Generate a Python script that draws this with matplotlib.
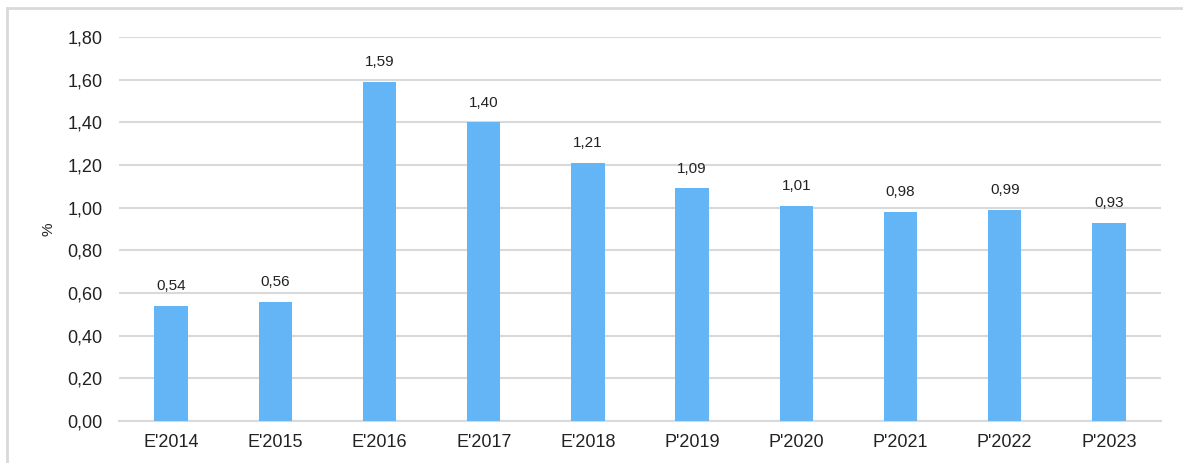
import matplotlib
matplotlib.use("Agg")
import matplotlib.pyplot as plt
from matplotlib.patches import Rectangle

years = ["E'2014", "E'2015", "E'2016", "E'2017", "E'2018",
         "P'2019", "P'2020", "P'2021", "P'2022", "P'2023"]
values = [0.54, 0.56, 1.59, 1.40, 1.21, 1.09, 1.01, 0.98, 0.99, 0.93]
yticks = [0.0, 0.2, 0.4, 0.6, 0.8, 1.0, 1.2, 1.4, 1.6, 1.8]


def fmt(v):
    return f"{v:.2f}".replace(".", ",")


plt.rcParams['font.family'] = ['Liberation Sans', 'DejaVu Sans']

fig = plt.figure(figsize=(11.83, 4.63), dpi=100)
ax = fig.add_axes([0.1006, 0.0907, 0.8808, 0.8293])

x = range(len(years))
bars = ax.bar(x, values, width=0.32, color='#64B5F6', zorder=3)

for b, v in zip(bars, values):
    ax.annotate(fmt(v), (b.get_x() + b.get_width() / 2, v),
                xytext=(0, 9), textcoords='offset points',
                ha='center', va='bottom', fontsize=11, color='#222222')

ax.set_xlim(-0.5, len(years) - 0.5)
ax.set_ylim(0, 1.8)
ax.set_yticks(yticks)
ax.set_yticklabels([fmt(t) for t in yticks])
ax.set_xticks(list(x))
ax.set_xticklabels(years)
ax.tick_params(axis='both', length=0, labelsize=13, colors='#222222')
ax.tick_params(axis='y', pad=12)
ax.tick_params(axis='x', pad=9)
ax.yaxis.grid(True, color='#D9D9D9', linewidth=1.5, zorder=0)
for s in ['top', 'right', 'left']:
    ax.spines[s].set_visible(False)
ax.spines['bottom'].set_color('#D9D9D9')
ax.spines['bottom'].set_linewidth(1.5)
ax.set_ylabel('%', fontsize=11, color='#222222')
ax.yaxis.set_label_coords(-0.061, 0.5)

# light frame around chart
fig.patches.append(Rectangle((7 / 1183, -0.1), 1.2, (463 - 8) / 463 + 0.1,
                             transform=fig.transFigure, fill=False,
                             edgecolor='#D9D9D9', linewidth=2))

fig.savefig('out.png', dpi=100)
